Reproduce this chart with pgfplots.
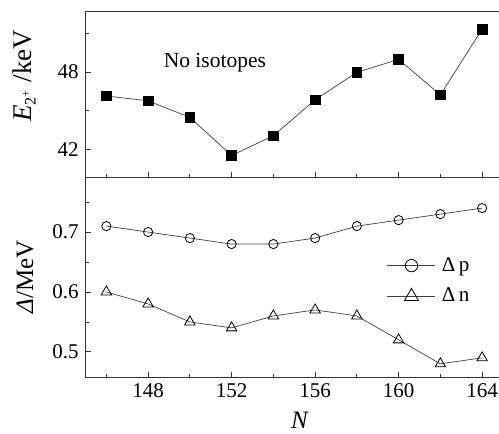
\documentclass[border=0pt]{standalone}
\usepackage{pgfplots}
\pgfplotsset{compat=1.18}
\usepackage{fontspec}
\setmainfont{Liberation Serif}
\begin{document}
\fontsize{20}{24}\selectfont
\begin{tikzpicture}
\pgfplotsset{
  every axis/.append style={
    scale only axis,
    width=417.5pt,
    xmin=145, xmax=165,
    axis line style={line width=0.9pt, black!80},
    tick style={line width=0.8pt, black!80},
    tick align=inside,
    xtick pos=lower, ytick pos=left,
    major tick length=5pt, minor tick length=3pt,
    xtick={148,152,156,160,164},
    minor xtick={146,150,154,158,162},
    /pgf/number format/assume math mode=true,
    ticklabel style={font=\fontsize{21}{24}\selectfont},
    label style={font=\fontsize{25}{28}\selectfont},
    every axis plot/.append style={line width=0.7pt, draw=black!75},
    clip=false,
  },
}
\begin{axis}[
  name=top,
  at={(85.5pt,257pt)}, anchor=south west,
  height=166pt,
  ymin=39.9, ymax=52.7,
  ytick={42,48}, minor ytick={45,51},
  xticklabels={},
  ylabel={\fontsize{27}{30}\selectfont\textit{E}\raisebox{-0.35ex}{\fontsize{16}{17}\selectfont 2\raisebox{0.8ex}{\fontsize{12}{13}\selectfont +}}\hspace{0.3em}/keV},
  ylabel style={at={(axis description cs:-0.147,0.61)}, anchor=center},
]
\addplot[mark=square*, mark size=4.8pt, mark options={fill=black, draw=black}] coordinates {
(146,46.15) (148,45.77) (150,44.5) (152,41.56) (154,43.08) (156,45.85) (158,47.97) (160,48.97) (162,46.23) (164,51.3)
};
\node[font=\fontsize{21.5}{24}\selectfont] at (axis cs:151.2,48.7) {No isotopes};
\end{axis}
\begin{axis}[
  name=bot,
  at={(85.5pt,57pt)}, anchor=south west,
  height=200pt,
  ymin=0.458, ymax=0.792,
  ytick={0.5,0.6,0.7}, minor ytick={0.55,0.65,0.75},
  yticklabel style={/pgf/number format/.cd, fixed, fixed zerofill, precision=1},
  xlabel={\textit{N}},
  xlabel style={at={(axis description cs:0.514,-0.215)}, anchor=center},
  ylabel={\textit{Δ}/MeV},
  ylabel style={at={(axis description cs:-0.145,0.5)}, anchor=center},
  legend style={draw=none, fill=none, at={(axis description cs:0.722,0.61)}, anchor=north west,
    font=\fontsize{21}{24}\selectfont, row sep=10pt, inner sep=0pt, cells={anchor=west},
    /tikz/every odd column/.append style={column sep=4pt}},
  legend image code/.code={\draw[mark repeat=2, mark phase=2, every mark/.append style={scale=1.35}] plot coordinates {(0pt,0pt) (24pt,0pt) (48pt,0pt)};},
]
\addplot[mark=o, mark size=4.6pt, mark options={fill=white, draw=black, line width=0.8pt}] coordinates {
(146,0.71) (148,0.70) (150,0.69) (152,0.68) (154,0.68) (156,0.69) (158,0.71) (160,0.72) (162,0.73) (164,0.74)
};
\addlegendentry{Δ\,p}
\addplot[mark=triangle, mark size=6pt, mark options={fill=white, draw=black, line width=0.8pt}] coordinates {
(146,0.60) (148,0.58) (150,0.55) (152,0.54) (154,0.56) (156,0.57) (158,0.56) (160,0.52) (162,0.48) (164,0.49)
};
\addlegendentry{Δ\,n}
\end{axis}
\pgfresetboundingbox
\useasboundingbox (0pt,0pt) rectangle (499pt,434pt);
\end{tikzpicture}
\end{document}
